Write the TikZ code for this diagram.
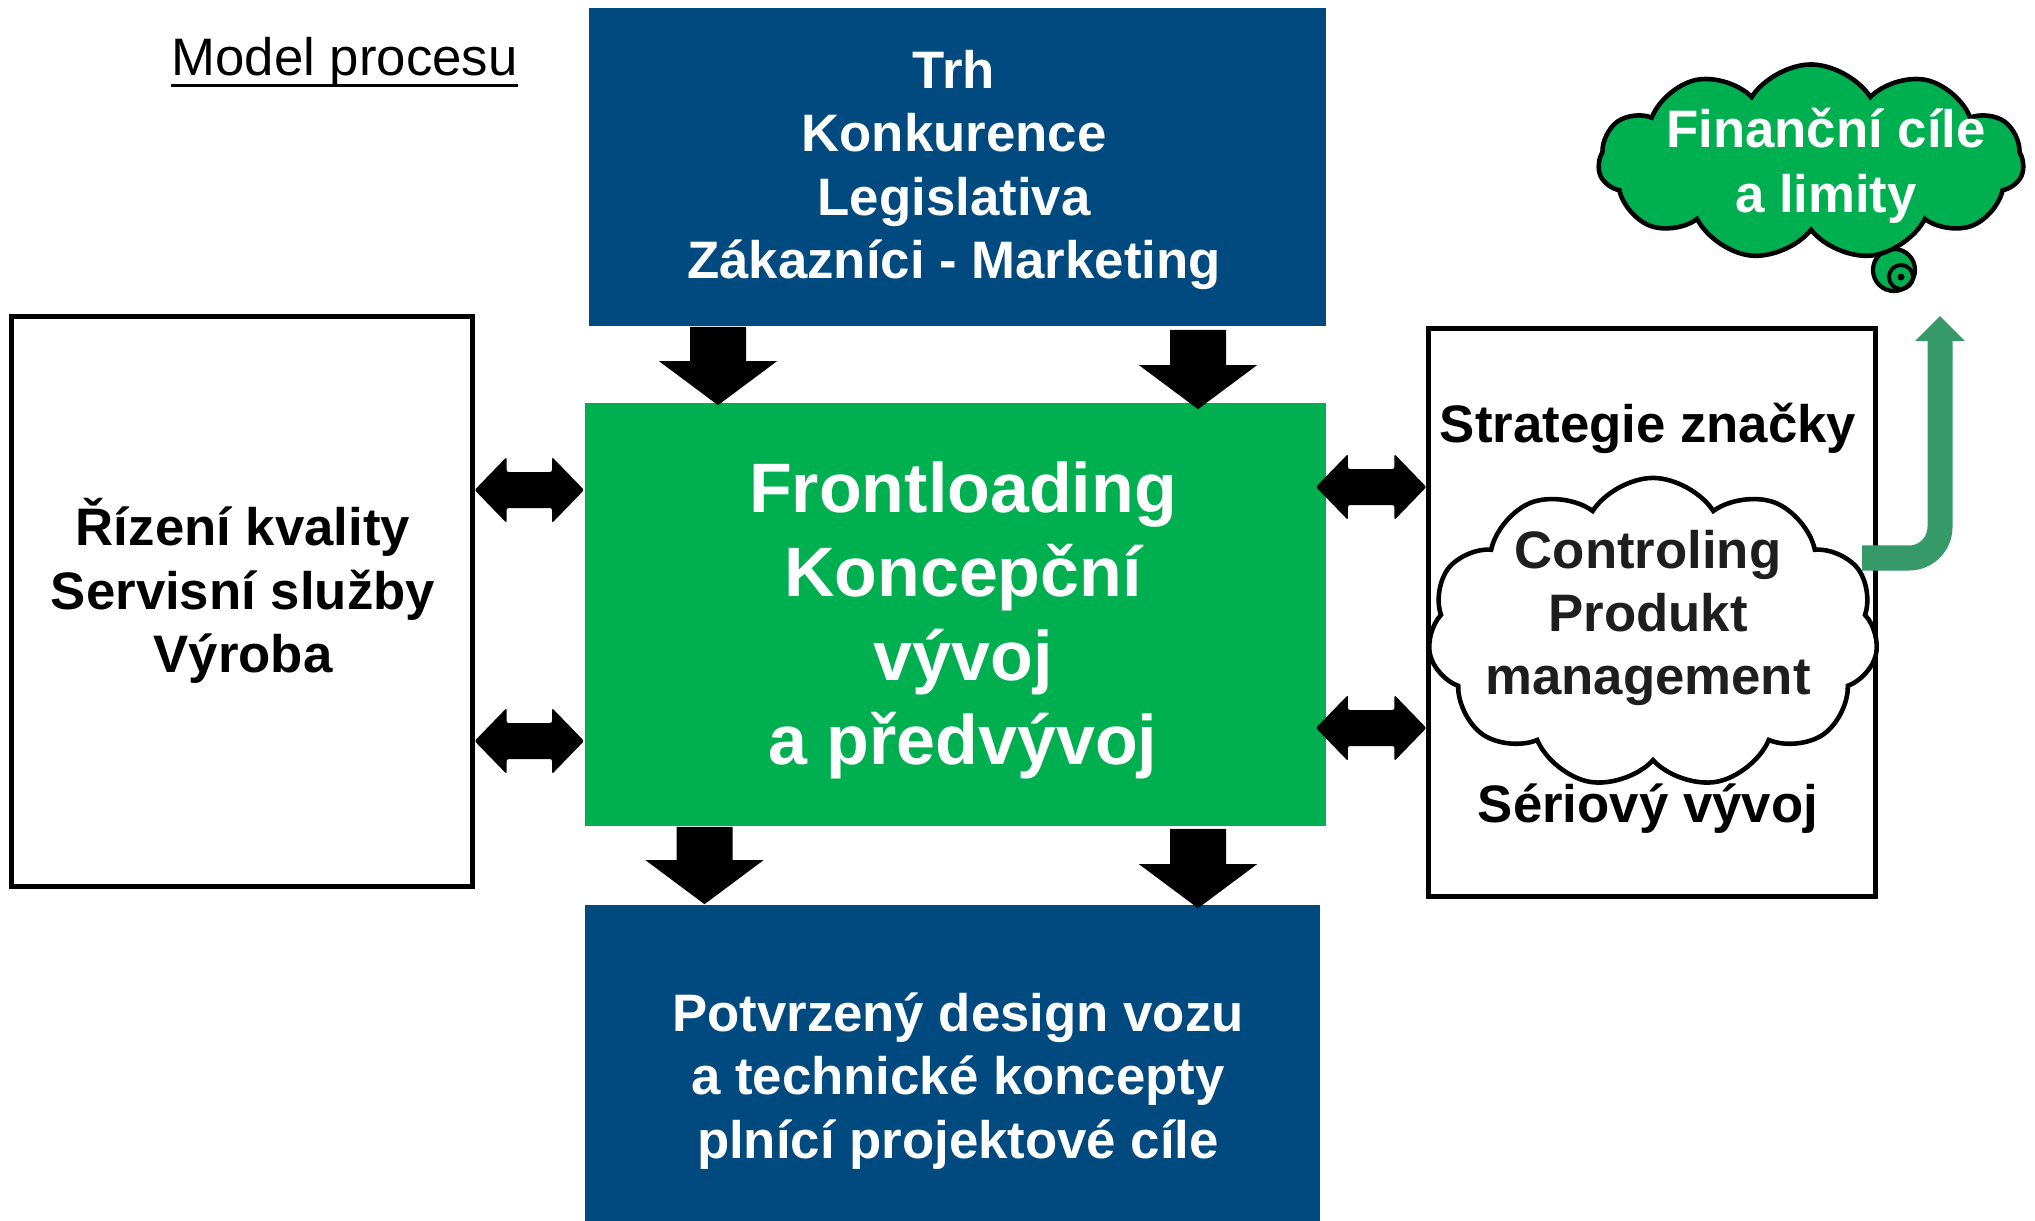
\documentclass[tikz,border=0pt]{standalone}
\usepackage{fontspec}
\setmainfont{Liberation Sans}
\usetikzlibrary{shapes.symbols,calc,arrows.meta}
\definecolor{skblue}{RGB}{0,74,128}
\definecolor{skgreen}{RGB}{0,176,80}
\definecolor{arrgreen}{RGB}{53,154,104}
\definecolor{ctrltext}{RGB}{30,30,30}
% horizontal double block arrow between two tips
\newcommand\DblArrow[2]{%
  \fill[rounded corners=0.6pt] (#1) -- ($(#1)+(32,-33)$) -- ($(#1)+(32,-18)$) -- ($(#2)+(-32,-18)$) -- ($(#2)+(-32,-33)$) -- (#2)
    -- ($(#2)+(-32,33)$) -- ($(#2)+(-32,18)$) -- ($(#1)+(32,18)$) -- ($(#1)+(32,33)$) -- cycle;}
% downward block arrow: #1 = top middle of shaft, #2 = tip
\newcommand\DownArrow[2]{%
  \fill ($(#1)+(-28,0)$) -- ($(#1)+(28,0)$) -- ($(#2)+(28,-44)$) -- ($(#2)+(59,-44)$) -- (#2)
    -- ($(#2)+(-59,-44)$) -- ($(#2)+(-28,-44)$) -- cycle;}
\begin{document}
\begin{tikzpicture}[x=0.01cm,y=-0.01cm,
  bluebox/.style={fill=skblue, draw=none, inner sep=0},
  greenbox/.style={fill=skgreen, draw=none, inner sep=0},
  framebox/.style={draw=black, line width=1.4pt, fill=white, inner sep=0},
  txt/.style={align=center, inner sep=0, font=\bfseries\fontsize{15pt}{18.05pt}\selectfont},
  bigtxt/.style={align=center, inner sep=0, font=\bfseries\fontsize{19.9pt}{23.9pt}\selectfont},
  cloudshape/.style={cloud, cloud puffs=11, cloud puff arc=115, cloud ignores aspect, draw=black, line width=1.3pt, inner sep=0}
]
\useasboundingbox (0,0) rectangle (2035,1221);

% boxes
\node[bluebox, minimum width=7.37cm, minimum height=3.18cm] (top) at (957.5,167) {};
\node[greenbox, minimum width=7.41cm, minimum height=4.23cm] (core) at (955.5,614.5) {};
\node[bluebox, minimum width=7.35cm, minimum height=3.16cm] (bottom) at (952.5,1063) {};
\node[framebox, minimum width=4.60cm, minimum height=5.69cm] (left) at (242,601.5) {};
\node[framebox, minimum width=4.46cm, minimum height=5.67cm] (right) at (1652,612.5) {};

% texts
\node[anchor=base west, inner sep=0, font=\fontsize{15pt}{18pt}\selectfont] (title) at (171,75) {Model procesu};
\draw[line width=0.85pt] ([yshift=-0.10cm]title.base west) -- ([yshift=-0.10cm]title.base east);

\node[txt, text=white] (toptxt) at (954,170) {Trh\\Konkurence\\Legislativa\\Zákazníci - Marketing};
\node[bigtxt, text=white] (coretxt) at (963,620) {Frontloading\\Koncepční\\vývoj\\a předvývoj};
\node[txt, text=white] (bottxt) at (958,1081) {Potvrzený design vozu\\a technické koncepty\\plnící projektové cíle};
\node[txt] (lefttxt) at (243,591) {Řízení kvality\\Servisní služby\\Výroba};
\node[txt] (strat) at (1648,428) {Strategie značky};
\node[txt] (serial) at (1648,809) {Sériový vývoj};

% controlling cloud
\node[cloudshape, fill=white, minimum width=4.5cm, minimum height=3.1cm] (ctrl) at (1653,633) {};
\node[txt, text=ctrltext, font=\bfseries\fontsize{15pt}{17.8pt}\selectfont] (ctrltxt) at (1648,618) {Controling\\Produkt\\management};

% financial cloud with tail
\node[circle, fill=skgreen, draw=black, line width=1.2pt, minimum size=0.42cm, inner sep=0] (tail1) at (1894,270) {};
\node[circle, draw=black, line width=1.1pt, minimum size=0.24cm, inner sep=0] (tail2) at (1901,277) {};
\node[circle, fill=black, minimum size=0.07cm, inner sep=0] (tail3) at (1901,277) {};
\node[cloudshape, fill=skgreen, minimum width=4.25cm, minimum height=1.95cm] (fin) at (1811,162) {};
\node[txt, text=white, font=\bfseries\fontsize{15pt}{18.4pt}\selectfont] (fintxt) at (1826,166) {Finanční cíle\\a limity};

% block arrows top -> core
\DownArrow{top.south -| {(718,0)}}{$(core.north -| {(718,0)})+(0,3)$}
\DownArrow{$(top.south -| {(1198,0)})+(0,3)$}{$(core.north -| {(1198,0)})+(0,7)$}
% core -> bottom
\DownArrow{core.south -| {(704.5,0)}}{bottom.north -| {(704.5,0)}}
\DownArrow{$(core.south -| {(1198,0)})+(0,2)$}{$(bottom.north -| {(1198,0)})+(0,4)$}
% double arrows left
\DblArrow{left.east |- {(0,490)}}{core.west |- {(0,490)}}
\DblArrow{left.east |- {(0,741)}}{core.west |- {(0,741)}}
% double arrows right
\DblArrow{$(core.east |- {(0,487)})+(-11,0)$}{right.west |- {(0,487)}}
\DblArrow{$(core.east |- {(0,728)})+(-11,0)$}{right.west |- {(0,728)}}

% green bent arrow
\coordinate (gs) at (1862,558);
\coordinate (ge) at (1940,316);
\draw[arrgreen, line width=0.25cm, rounded corners=0.31cm, -{Triangle[width=0.48cm,length=0.25cm]}] (gs) -| (ge);
\end{tikzpicture}
\end{document}
